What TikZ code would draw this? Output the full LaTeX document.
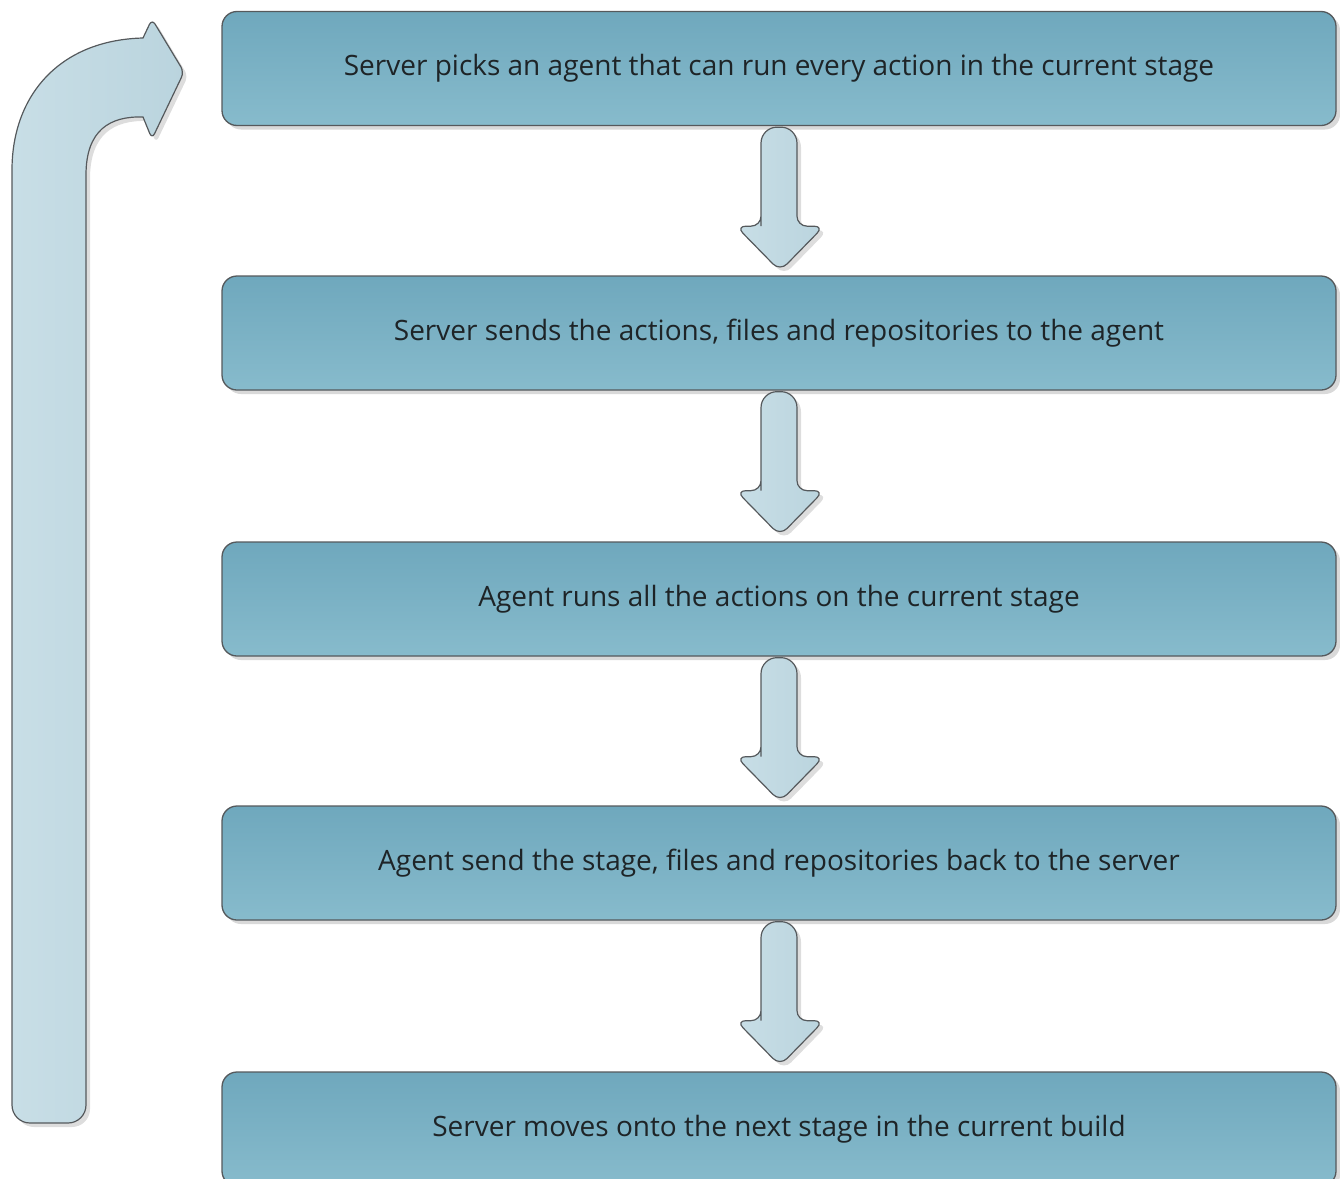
\documentclass[tikz,border=0pt]{standalone}
\usepackage{fontspec}
\setmainfont{Open Sans}
\usetikzlibrary{shadows}
\definecolor{boxtop}{HTML}{6FA8BD}
\definecolor{boxbot}{HTML}{87BBCC}
\definecolor{arrfill}{HTML}{BAD4DE}
\definecolor{arrlight}{HTML}{C8DEE6}
\definecolor{edge}{HTML}{55595C}
\definecolor{txt}{HTML}{1E2427}
\tikzset{
  stepbox/.style={draw=edge, line width=1.3pt, rounded corners=15pt,
    top color=boxtop, bottom color=boxbot,
    minimum width=1114pt, minimum height=114pt, inner sep=0pt,
    text=txt, font=\fontsize{28}{33}\selectfont,
    drop shadow={shadow xshift=4pt, shadow yshift=-4pt, opacity=0.25, fill=black!60}},
  flowarrow/.style={draw=edge, line width=1.2pt, left color=arrlight, right color=arrfill,
    drop shadow={shadow xshift=4pt, shadow yshift=-4pt, opacity=0.22, fill=black!60}}
}
\newcommand{\downarrowshape}[1]{%
  \begin{scope}[shift={(#1)}]
    \path[flowarrow]
      (-18,100) [rounded corners=16pt] -- (-18,1) -- (18,1) [rounded corners=10pt] -- (18,100)
      -- (45,100) -- (1,145) -- (-43,100) -- (-18,100) -- (-18,60) [sharp corners] -- cycle;
  \end{scope}}
\begin{document}
\begin{tikzpicture}[x=1pt,y=-1pt]
\useasboundingbox (0,0) rectangle (1340,1178);
% loop-back arrow
\path[flowarrow]
  (12,170) [rounded corners=18pt] -- (12,1123) -- (86,1123) [sharp corners] -- (86,175)
  .. controls (86,130) and (110,116) .. (143,117)
  [rounded corners=6pt] -- (152,139) -- (184,72) -- (152,19) [sharp corners] -- (143,38)
  .. controls (60,40) and (12,95) .. (12,170) -- cycle;
% boxes
\node[stepbox] (b1) at (779,68.5) {Server picks an agent that can run every action in the current stage};
\node[stepbox] (b2) at (779,333) {Server sends the actions, files and repositories to the agent};
\node[stepbox] (b3) at (779,599) {Agent runs all the actions on the current stage};
\node[stepbox] (b4) at (779,863) {Agent send the stage, files and repositories back to the server};
\node[stepbox] (b5) at (779,1129) {Server moves onto the next stage in the current build};
% down arrows
\downarrowshape{b1.south}
\downarrowshape{b2.south}
\downarrowshape{b3.south}
\downarrowshape{b4.south}
\end{tikzpicture}
\end{document}
